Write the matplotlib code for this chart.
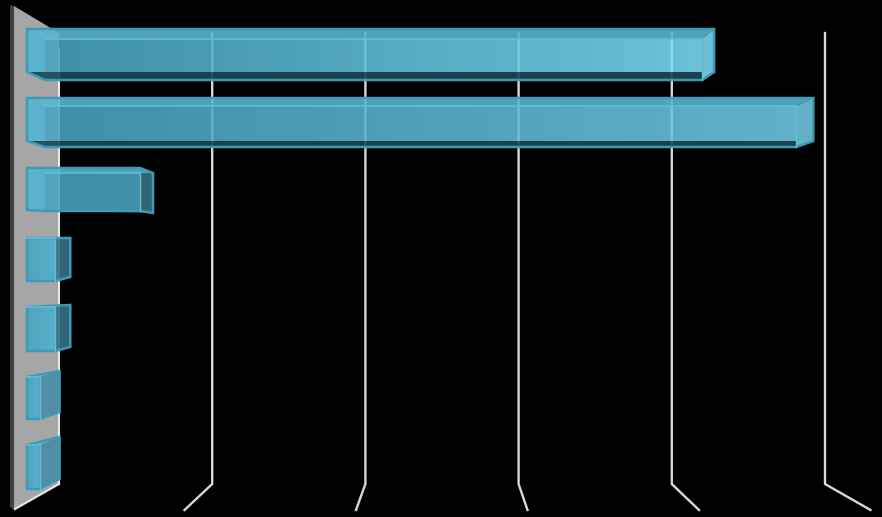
import numpy as np
import matplotlib
matplotlib.use("Agg")
import matplotlib.pyplot as plt
from matplotlib.patches import Polygon
from matplotlib.colors import to_rgb

# ---- Data (axis units) ----
bar_values = [4.30, 4.90, 0.72, 0.18, 0.18, 0.08, 0.08]
grid_values = [1, 2, 3, 4, 5]

# ---- 3D geometry per row (pixels) ----
row_top = [29, 98, 168, 238, 307, 377, 445]
row_bot = [72, 141, 210, 281, 351, 419, 489]
face_top = [39, 106, 173, 238, 307, 377, 445]
face_bot = [80, 147, 211, 281, 351, 419, 489]
cap_top = [29, 98, 173, 238, 305, 371, 437]
cap_bot = [72, 141, 213, 277, 347, 412, 479]
depth_dx = [12, 17, 13, 15, 15, 20, 20]
left_in = [45, 45, 45, 27, 27, 27, 27]
cap_colors = ["#76cde6", "#6cc0d9", "#36707f", "#366f85", "#366f85", "#4a8ba4", "#4a8ba4"]
end_colors = ["#7bdefa", "#70cbe7", "#48a6c2", "#4ab1d1", "#4ab1d1", "#4ab1d1", "#4ab1d1"]
start_color = "#48a4c0"
edge_color = "#3f9ab5"

# ---- Scales ----
wall_x, wall_unit = 59, 153.2
floor_x, floor_unit = 13, 171.5
bar_x, bar_unit = 27, 157
wall_top, wall_bot, floor_y = 33, 484, 510

fig = plt.figure(figsize=(8.82, 5.17), dpi=100, facecolor="black")
ax = fig.add_axes([0, 0, 1, 1])
ax.set_facecolor("black")
ax.axis("off")

# ---- Side wall ----
ax.add_patch(Polygon([(14, 6), (wall_x, 33), (wall_x, wall_bot), (14, floor_y)], fc="#a6a6a6", ec="none"))
ax.add_patch(Polygon([(10, 5), (14, 6), (14, floor_y), (10, 507)], fc="#404040", ec="none"))
ax.plot([wall_x, wall_x], [48, wall_bot], color="#e8e8e8", lw=1.5)
ax.plot([wall_x, 15], [wall_bot, floor_y - 1], color="#e8e8e8", lw=1.5)

# ---- Gridlines ----
for g in grid_values:
    gx = wall_x + wall_unit * g
    ax.plot([gx, gx, floor_x + floor_unit * g], [wall_top, wall_bot, floor_y],
            color="#d9d9d9", lw=1.7, solid_joinstyle="miter")

# ---- Bars ----
for i, v in enumerate(bar_values):
    fx = bar_x + bar_unit * v
    bx = fx + depth_dx[i]
    li = left_in[i]

    # front face with a left to right gradient
    t = np.linspace(0, 1, 256)[None, :, None]
    c0 = np.array(to_rgb(start_color))
    c1 = np.array(to_rgb(end_colors[i]))
    rgba = np.dstack([c0 + (c1 - c0) * t, np.full((1, 256), 0.88)])
    im = ax.imshow(rgba, extent=(li, fx, face_bot[i], face_top[i]), aspect="auto", zorder=3)
    clip = Polygon([(li, face_top[i]), (fx, face_top[i]), (fx, row_bot[i]), (li, row_bot[i])],
                   transform=ax.transData)
    im.set_clip_path(clip)

    # left end
    if li > bar_x:
        ax.add_patch(Polygon([(bar_x, row_top[i]), (li, face_top[i]), (li, face_bot[i]), (bar_x, row_bot[i])],
                             fc="#52b4d3", alpha=0.9, ec="none", zorder=3))

    # top strip, with a corner at the front end when the cap drops below the top edge
    if cap_top[i] > row_top[i]:
        top_edge = [(bar_x, row_top[i]), (fx, row_top[i]), (bx, cap_top[i])]
    else:
        top_edge = [(bar_x, row_top[i]), (bx, cap_top[i])]
    ax.add_patch(Polygon(top_edge + [(fx, face_top[i]), (li, face_top[i])],
                         fc="#5ab5d0", alpha=0.9, ec="none", zorder=3))

    # bottom strip
    if face_bot[i] > row_bot[i]:
        ax.add_patch(Polygon([(bar_x, row_bot[i]), (bx, cap_bot[i]), (fx, face_bot[i]), (li, face_bot[i])],
                             fc="#1d4855", alpha=0.92, ec="none", zorder=3))

    # right end
    ax.add_patch(Polygon([(fx, face_top[i]), (bx, cap_top[i]), (bx, cap_bot[i]), (fx, face_bot[i])],
                         fc=cap_colors[i], alpha=0.92, ec="none", zorder=4))

    # outline
    ax.add_patch(Polygon(top_edge + [(bx, cap_bot[i]), (fx, face_bot[i]),
                                     (li, face_bot[i]), (bar_x, row_bot[i])],
                         fc="none", ec=edge_color, lw=1.8, zorder=5))
    ax.plot([li, fx], [face_top[i], face_top[i]], color="#62bdd8", lw=1.2, zorder=5)
    ax.plot([fx, fx], [face_top[i], face_bot[i]], color="#62bdd8", lw=1.0, zorder=5)

ax.set_xlim(0, 882)
ax.set_ylim(517, 0)

fig.savefig("out.png", dpi=100, facecolor="black")
